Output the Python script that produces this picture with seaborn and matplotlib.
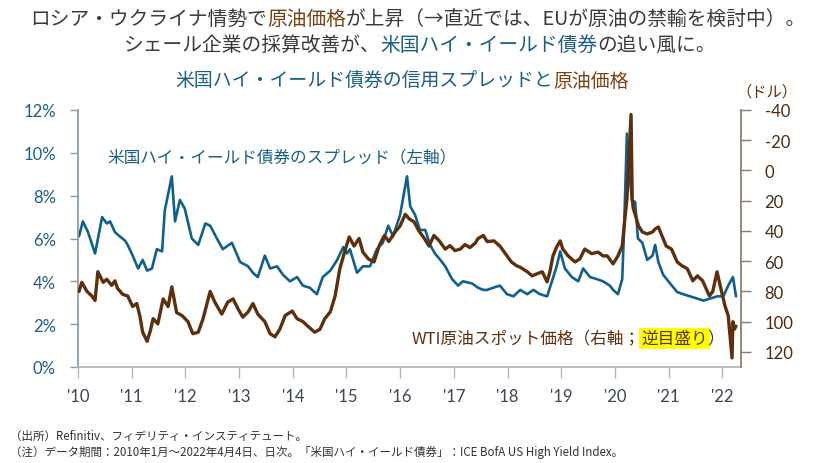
import matplotlib
matplotlib.use('Agg')
import matplotlib.pyplot as plt
import matplotlib.ticker as mticker
import seaborn as sns
import pandas as pd

# 米国ハイ・イールド債券スプレッド（％）
hy_dates = [
    '2010-01-08', '2010-02-03', '2010-03-10', '2010-04-27', '2010-06-14', '2010-07-16', '2010-08-07',
    '2010-09-09', '2010-10-12', '2010-11-17', '2010-12-05', '2011-01-08', '2011-02-14', '2011-03-17',
    '2011-04-16', '2011-05-19', '2011-06-21', '2011-07-27', '2011-08-14', '2011-10-01', '2011-10-23',
    '2011-11-25', '2011-12-28', '2012-02-14', '2012-03-29', '2012-05-16', '2012-06-18', '2012-08-03',
    '2012-09-12', '2012-11-13', '2013-01-08', '2013-03-03', '2013-04-05', '2013-05-08', '2013-06-25',
    '2013-07-31', '2013-09-16', '2013-10-27', '2013-12-13', '2014-01-30', '2014-03-11', '2014-04-27',
    '2014-06-14', '2014-07-24', '2014-09-13', '2014-10-30', '2014-12-10', '2015-01-05', '2015-01-25',
    '2015-03-14', '2015-04-23', '2015-06-10', '2015-07-27', '2015-09-06', '2015-10-12', '2015-11-14',
    '2016-01-01', '2016-02-17', '2016-03-10', '2016-04-12', '2016-05-15', '2016-06-20', '2016-07-23',
    '2016-08-25', '2016-10-01', '2016-11-03', '2016-12-20', '2017-01-30', '2017-03-03', '2017-05-05',
    '2017-06-14', '2017-07-20', '2017-08-15', '2017-09-24', '2017-11-10', '2017-12-28', '2018-02-10',
    '2018-03-28', '2018-05-15', '2018-06-25', '2018-08-10', '2018-09-27', '2018-10-30', '2018-12-01',
    '2018-12-25', '2019-01-26', '2019-03-14', '2019-04-27', '2019-05-30', '2019-07-16', '2019-09-02',
    '2019-10-12', '2019-11-28', '2019-12-20', '2020-01-22', '2020-02-20', '2020-03-03', '2020-03-23',
    '2020-04-08', '2020-04-26', '2020-05-18', '2020-06-06', '2020-07-06', '2020-08-08', '2020-09-13',
    '2020-10-01', '2020-10-23', '2020-11-25', '2021-01-11', '2021-02-28', '2021-04-09', '2021-05-26',
    '2021-07-12', '2021-08-25', '2021-10-12', '2021-11-28', '2022-01-08', '2022-02-10', '2022-03-14',
    '2022-04-04',
]
hy_spread = [
    6.1, 6.8, 6.3, 5.3, 7.0, 6.7, 6.8,
    6.3, 6.1, 5.9, 5.7, 5.2, 4.6, 5.0,
    4.5, 4.6, 5.5, 5.4, 7.3, 8.9, 6.8,
    7.8, 7.4, 6.0, 5.7, 6.7, 6.6, 6.0,
    5.5, 5.8, 4.9, 4.7, 4.4, 4.2, 5.2,
    4.6, 4.7, 4.3, 4.0, 4.2, 3.8, 3.7,
    3.4, 4.2, 4.5, 5.0, 5.6, 5.3, 5.5,
    4.4, 4.7, 4.7, 5.5, 5.8, 6.6, 6.1,
    7.1, 8.9, 7.5, 7.1, 6.4, 6.4, 5.7,
    5.3, 5.0, 4.7, 4.1, 3.8, 4.0, 3.9,
    3.7, 3.6, 3.6, 3.7, 3.8, 3.4, 3.3,
    3.6, 3.4, 3.6, 3.4, 3.3, 4.0, 4.7,
    5.4, 4.6, 4.2, 4.0, 4.6, 4.2, 4.1,
    4.0, 3.8, 3.6, 3.4, 4.1, 6.3, 10.9,
    9.1, 7.8, 7.7, 6.0, 5.8, 5.0, 5.2,
    5.7, 4.9, 4.3, 3.9, 3.5, 3.4, 3.3,
    3.2, 3.1, 3.2, 3.3, 3.3, 3.8, 4.2,
    3.3,
]

# WTI原油スポット価格（ドル）
wti_dates = [
    '2010-01-08', '2010-01-27', '2010-03-03', '2010-04-05', '2010-04-27', '2010-05-16', '2010-06-21',
    '2010-07-16', '2010-08-18', '2010-09-09', '2010-09-27', '2010-11-02', '2010-12-05', '2011-01-08',
    '2011-02-05', '2011-02-25', '2011-03-17', '2011-04-16', '2011-05-08', '2011-05-27', '2011-06-28',
    '2011-08-03', '2011-09-06', '2011-10-01', '2011-11-03', '2011-12-10', '2012-01-19', '2012-02-21',
    '2012-03-29', '2012-05-01', '2012-06-18', '2012-07-19', '2012-09-05', '2012-10-16', '2012-11-21',
    '2012-12-25', '2013-01-26', '2013-03-03', '2013-04-05', '2013-05-08', '2013-06-25', '2013-07-31',
    '2013-09-02', '2013-10-05', '2013-11-10', '2013-12-28', '2014-01-30', '2014-03-11', '2014-04-13',
    '2014-05-30', '2014-07-05', '2014-08-07', '2014-09-13', '2014-10-16', '2014-11-17', '2014-12-25',
    '2015-01-20', '2015-02-22', '2015-03-28', '2015-04-23', '2015-05-30', '2015-07-08', '2015-08-11',
    '2015-09-16', '2015-10-16', '2015-11-28', '2016-01-01', '2016-02-05', '2016-03-03', '2016-04-05',
    '2016-05-08', '2016-06-14', '2016-07-16', '2016-08-18', '2016-09-24', '2016-11-03', '2016-12-05',
    '2017-01-08', '2017-02-14', '2017-03-17', '2017-04-20', '2017-05-27', '2017-06-14', '2017-07-20',
    '2017-08-15', '2017-10-01', '2017-11-10', '2017-12-28', '2018-01-27', '2018-03-03', '2018-03-28',
    '2018-05-15', '2018-06-17', '2018-07-19', '2018-08-25', '2018-09-27', '2018-10-16', '2018-11-06',
    '2018-12-01', '2018-12-25', '2019-01-12', '2019-02-17', '2019-04-05', '2019-05-08', '2019-06-10',
    '2019-07-27', '2019-09-09', '2019-10-12', '2019-11-10', '2019-12-20', '2020-01-22', '2020-02-20',
    '2020-03-09', '2020-03-23', '2020-04-20', '2020-04-28', '2020-05-05', '2020-06-10', '2020-07-06',
    '2020-08-08', '2020-09-13', '2020-10-01', '2020-10-23', '2020-11-20', '2020-12-15', '2021-01-20',
    '2021-02-28', '2021-04-01', '2021-05-08', '2021-06-14', '2021-07-16', '2021-08-20', '2021-10-05',
    '2021-10-28', '2021-11-26', '2021-12-17', '2022-01-19', '2022-02-10', '2022-03-08', '2022-03-14',
    '2022-03-24', '2022-04-04',
]
wti_price = [
    80, 74, 80, 83, 86, 67, 74,
    72, 76, 73, 78, 82, 83, 90,
    88, 96, 107, 113, 106, 98, 101.5,
    85, 90, 77, 94, 96, 100, 108,
    107, 98, 80, 87, 95, 87, 85,
    91.6, 97, 93.6, 88, 95, 100, 108,
    110, 105, 96, 93, 98, 100, 103,
    107, 105, 98, 93.6, 83, 65, 52,
    44, 50, 45, 54, 58.5, 60.5, 50,
    43, 47, 40.7, 36.7, 29, 32, 34,
    40, 45, 50, 43, 46.6, 52, 49.7,
    53, 52, 49, 51, 48, 45, 43,
    47, 46.6, 50, 56.5, 60.5, 63, 64,
    67, 69.7, 68.4, 67, 73.7, 67, 56.5,
    50.6, 46.6, 52, 56.5, 60.5, 58.5, 52,
    55, 54, 56.5, 56.5, 61.8, 56.5, 50,
    32, 19, -37, 19, 25, 36.7, 40.7,
    42, 40.7, 38.7, 37.4, 44, 50, 52,
    60.5, 63, 65, 73, 69.7, 73, 83,
    80, 67, 76, 89.6, 96, 124, 100,
    105, 103,
]

years = list(range(2010, 2023))
year_labels = [f"'{y % 100:02d}" for y in years]
left_ticks = [0, 2, 4, 6, 8, 10, 12]
right_ticks = [-40, -20, 0, 20, 40, 60, 80, 100, 120]

hy = pd.DataFrame({'date': pd.to_datetime(hy_dates), 'spread': hy_spread})
wti = pd.DataFrame({'date': pd.to_datetime(wti_dates), 'price': wti_price})

BLUE = '#10608e'
BROWN = '#5e2f0c'
TITLE_GRAY = '#3a3a3a'

sns.set_theme(style='white')
plt.rcParams['font.family'] = ['Noto Sans CJK JP', 'DejaVu Sans']
plt.rcParams['axes.unicode_minus'] = False

W, H = 825, 464
fig = plt.figure(figsize=(W / 100, H / 100), dpi=100)
ax = fig.add_axes([78 / W, 1 - 368 / H, 663 / W, 257 / H])
ax2 = ax.twinx()

sns.lineplot(data=hy, x='date', y='spread', ax=ax, color=BLUE, linewidth=1.9, legend=False)
sns.lineplot(data=wti, x='date', y='price', ax=ax2, color=BROWN, linewidth=2.4, legend=False)

ax.set_xlim(pd.Timestamp('2010-01-01'), pd.Timestamp('2022-05-08'))
ax.set_ylim(0, 12)
ax2.set_ylim(130, -40)  # 逆目盛り

ax.set_xticks([pd.Timestamp(f'{y}-01-01') for y in years])
ax.set_xticklabels(year_labels)
ax.set_yticks(left_ticks)
ax.yaxis.set_major_formatter(mticker.FuncFormatter(lambda v, p: f'{v:.0f}%'))
ax2.set_yticks(right_ticks)
ax.set_xlabel('')
ax.set_ylabel('')
ax2.set_ylabel('')

ax.tick_params(axis='x', length=8, width=1, pad=7, color='#b5b5b5', labelcolor='#3b4556', labelsize=12, bottom=True)
ax.tick_params(axis='y', length=6, width=1, pad=10, color='#8a9aaa', labelcolor='#1f5c86', labelsize=12, left=True)
ax2.tick_params(axis='y', length=7, width=1, pad=10, color='#8a7a6a', labelcolor='#4d2a10', labelsize=12, right=True)
for lab in ax.get_xticklabels() + ax.get_yticklabels() + ax2.get_yticklabels():
    lab.set_fontfamily('Lato')

for side in ['top', 'right']:
    ax.spines[side].set_visible(False)
for side in ['top', 'left', 'bottom']:
    ax2.spines[side].set_visible(False)
ax.spines['left'].set_color('#8a9aaa')
ax.spines['bottom'].set_color('#b5b5b5')
ax2.spines['right'].set_color('#8a7a6a')
ax.grid(False)
ax2.grid(False)

renderer = fig.canvas.get_renderer()


def rich_text(x_px, y_px, parts, size, align='center', **kw):
    # 色の違う文字列を横に並べて描く
    texts = []
    for s, c, extra in parts:
        t = fig.text(0, 1 - y_px / H, s, color=c, fontsize=size, va='center', ha='left', **extra, **kw)
        texts.append(t)
    widths = [t.get_window_extent(renderer).width for t in texts]
    x0 = x_px - sum(widths) / 2 if align == 'center' else x_px
    for t, w in zip(texts, widths):
        t.set_x(x0 / W)
        x0 += w


rich_text(418, 19, [('ロシア・ウクライナ情勢で', TITLE_GRAY, {}), ('原油価格', '#7a4010', {}),
                    ('が上昇（→直近では、EUが原油の禁輸を検討中）。', TITLE_GRAY, {})], 14.2)
rich_text(420, 45, [('シェール企業の採算改善が、', TITLE_GRAY, {}), ('米国ハイ・イールド債券', '#1b5f86', {}),
                    ('の追い風に。', TITLE_GRAY, {})], 14.2)
rich_text(402, 81, [('米国ハイ・イールド債券の信用スプレッドと', '#1b5f86', {}), ('原油価格', '#7a4010', {})], 13.6)

fig.text(767 / W, 1 - 92 / H, '（ドル）', color=BROWN, fontsize=11, ha='center', va='center')
fig.text(107 / W, 1 - 158 / H, '米国ハイ・イールド債券のスプレッド（左軸）', color='#1b5f86', fontsize=12, ha='left', va='center')

rich_text(412, 339, [('WTI原油スポット価格（右軸；', BROWN, {}),
                     ('逆目盛り', BROWN, {'bbox': dict(facecolor='#ffff00', edgecolor='none', pad=1.5)}),
                     ('）', BROWN, {})], 12, align='left')

fig.text(10 / W, 1 - 436 / H, '（出所）Refinitiv、フィデリティ・インスティテュート。', color='#333333', fontsize=8.3, ha='left', va='center')
fig.text(10 / W, 1 - 452 / H, '（注）データ期間：2010年1月～2022年4月4日、日次。「米国ハイ・イールド債券」：ICE BofA US High Yield Index。',
         color='#333333', fontsize=8.3, ha='left', va='center')

fig.savefig('out.png', dpi=100, facecolor='white')
